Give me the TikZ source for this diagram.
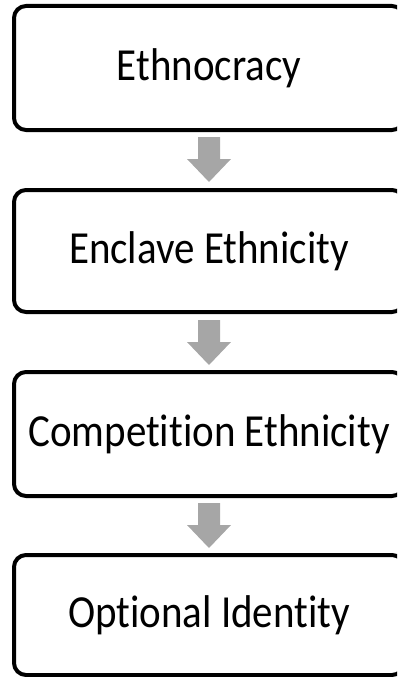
\documentclass[tikz,border=0pt]{standalone}
\usepackage{fontspec}
\setmainfont{Carlito}[Ligatures={NoCommon}]
\definecolor{arrowgray}{RGB}{166,166,166}
\tikzset{
  stage/.style={draw=black, line width=4pt, rounded corners=12pt, fill=white},
  stagetext/.style={anchor=base, inner sep=0pt, font=\fontsize{41}{41}\selectfont},
  flowarrow/.style={fill=arrowgray, draw=none}
}
\newcommand{\tallt}[1]{\scalebox{1}[1.12]{#1}}
\begin{document}
\begin{tikzpicture}[x=1pt,y=-1pt]
\useasboundingbox (0,0) rectangle (397,677);
\clip (0,0) rectangle (397,677);
% boxes
\draw[stage] (14,6) rectangle (404,130);
\draw[stage] (14,190) rectangle (404,312);
\draw[stage] (14,372) rectangle (404,496);
\draw[stage] (14,555) rectangle (404,675);
\node[stagetext] (t1) at (209,81) {\tallt{Ethnocracy}};
\node[stagetext] (t2) at (209,263) {\tallt{Enclave Ethnicity}};
\node[stagetext] (t3) at (209,446) {\tallt{Competition Ethnicity}};
\node[stagetext] (t4) at (209,627) {\tallt{Optional Identity}};
% arrows
\foreach \y in {137,320,503}{
  \fill[flowarrow] (198,\y) -- (220,\y) -- (220,\y+22) -- (231,\y+22) -- (209,\y+45) -- (187,\y+22) -- (198,\y+22) -- cycle;
}
\end{tikzpicture}
\end{document}
